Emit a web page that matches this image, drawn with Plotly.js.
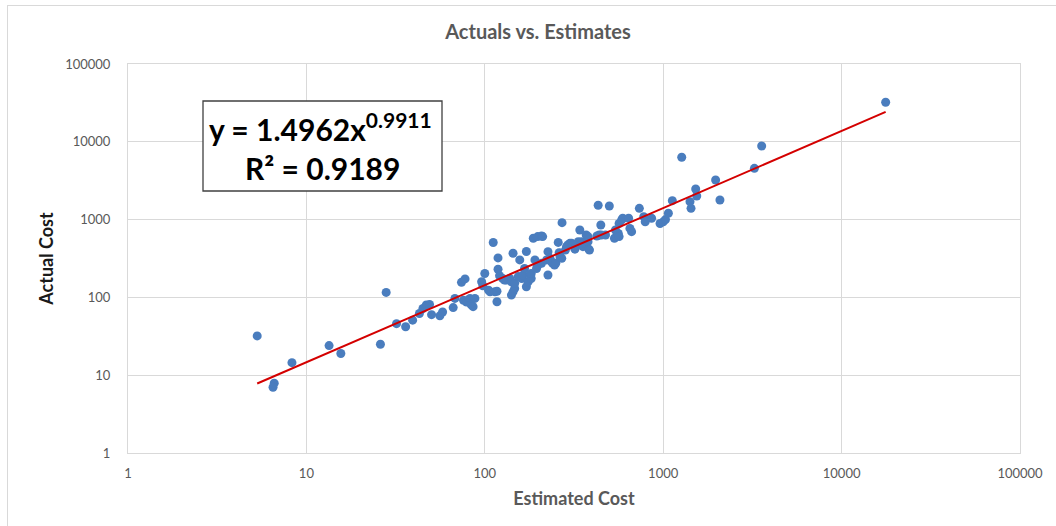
<!DOCTYPE html>
<html>
<head>
<meta charset="utf-8">
<script src="https://cdn.plot.ly/plotly-3.0.1.min.js"></script>
<style>
  html, body { margin:0; padding:0; background:#fff; overflow:hidden; }
  #chart { position:absolute; left:0; top:0; width:1056px; height:526px; }
  #frame { position:absolute; left:7px; top:5px; width:1100px; height:600px; border:1px solid #d9d9d9; pointer-events:none; }
</style>
</head>
<body>
<div id="chart"></div>
<div id="frame"></div>
<script>
// Estimated cost (x) and actual cost (y)
const estimated = [5.3, 6.6, 6.5, 8.3, 13.4, 15.6, 26, 28, 32, 36, 39.4, 43, 45, 47, 49, 50.3, 56, 58, 66.5, 68,
  74, 77.5, 76, 79, 81, 82.6, 84, 86, 88, 96, 97.5, 100, 105, 107, 111.5, 114, 117, 117, 118.6, 118.6,
  121, 126, 129, 132, 138, 141, 141, 144, 144, 147, 147, 154, 157, 161, 164, 167, 171, 171, 175, 179,
  182, 182, 187, 191, 195, 198, 198, 208, 208, 211, 222, 226, 226, 232, 236, 240, 246, 250, 258, 261,
  264, 264, 270, 271, 283, 287, 292, 300, 307, 313, 320, 326, 334, 341, 348, 355, 362, 370, 379, 383,
  386, 379, 425, 432, 438, 447, 450, 475, 499, 533, 540, 560, 566, 566, 585, 593, 640, 651, 665, 735,
  778, 793, 861, 960, 1000, 1030, 1069, 1125, 1270, 1413, 1432, 1521, 1542, 1967, 2080, 3245, 3564, 17660];
const actual = [32, 7.9, 7.0, 14.5, 24, 19, 25, 116, 46, 42, 51, 62, 72, 80, 81, 60, 58, 65, 74, 97,
  156, 173, 92, 87, 92, 97, 80, 76, 97, 159, 141, 203, 124, 118, 507, 118, 88, 120, 230, 322,
  190, 175, 167, 167, 175, 107, 159, 118, 369, 130, 152, 185, 303, 175, 194, 235, 137, 389, 159, 194,
  175, 203, 575, 303, 235, 605, 258, 274, 615, 605, 303, 387, 194, 318, 288, 274, 261, 274, 509, 375,
  369, 333, 318, 913, 406, 449, 471, 495, 495, 471, 417, 471, 520, 735, 520, 449, 495, 634, 520, 417,
  406, 605, 615, 1530, 634, 853, 634, 634, 1496, 575, 735, 665, 890, 605, 990, 1040, 1040, 770, 700, 1396,
  1090, 935, 1040, 890, 935, 1000, 1205, 1750, 6320, 1700, 1396, 2473, 2009, 3228, 1786, 4560, 8830, 32200];

// Power trendline as shown in the chart's equation label
const coefA = 1.4962;
const coefB = 0.9911;
const rSquared = 0.9189;

const tickVals = [1, 10, 100, 1000, 10000, 100000];
const tickText = ["1", "10", "100", "1000", "10000", "100000"];

const xMin = Math.min(...estimated), xMax = Math.max(...estimated);
const trendX = [xMin, xMax];
const trendY = trendX.map(v => coefA * Math.pow(v, coefB));

const font = "Lato, 'Open Sans', sans-serif";

const traces = [
  {
    x: estimated, y: actual, type: "scatter", mode: "markers",
    marker: { color: "#4a7dbe", size: 9 },
    hoverinfo: "x+y", showlegend: false
  },
  {
    x: trendX, y: trendY, type: "scatter", mode: "lines",
    line: { color: "#d40000", width: 2 },
    hoverinfo: "skip", showlegend: false
  }
];

const axisCommon = {
  type: "log",
  range: [0, 5],
  tickvals: tickVals,
  ticktext: tickText,
  showgrid: true,
  gridcolor: "#d9d9d9",
  gridwidth: 1,
  zeroline: false,
  showline: true,
  linecolor: "#d9d9d9",
  linewidth: 1,
  mirror: true,
  ticks: "",
  tickfont: { family: font, size: 13, color: "#595959" }
};

const layout = {
  width: 1056, height: 526,
  margin: { l: 128, r: 36, t: 64, b: 73 },
  paper_bgcolor: "rgba(0,0,0,0)",
  plot_bgcolor: "#ffffff",
  title: {
    text: "<b>Actuals vs. Estimates</b>",
    font: { family: font, size: 20, color: "#595959" },
    xref: "container", x: 538 / 1056, xanchor: "center",
    yref: "container", y: 1 - 32 / 526, yanchor: "middle"
  },
  xaxis: Object.assign({}, axisCommon, {
    title: { text: "<b>Estimated Cost</b>", font: { family: font, size: 18, color: "#595959" }, standoff: 12 },
    ticklabelstandoff: 8
  }),
  yaxis: Object.assign({}, axisCommon, {
    title: { text: "<b>Actual Cost</b>", font: { family: font, size: 18, color: "#1a1a1a" }, standoff: 6 },
    ticklabelstandoff: 14
  }),
  shapes: [
    {
      type: "rect", xref: "paper", yref: "paper",
      x0: (203 - 128) / 892, x1: (442 - 128) / 892,
      y0: (453 - 191) / 389, y1: (453 - 101) / 389,
      line: { color: "#404040", width: 1.3 }, fillcolor: "#ffffff", layer: "above"
    }
  ],
  annotations: [
    {
      xref: "paper", yref: "paper",
      x: (207 - 128) / 892, y: (453 - 127) / 389,
      xanchor: "left", yanchor: "middle", showarrow: false,
      text: "<b>y = " + coefA.toFixed(4) + "x<sup>" + coefB.toFixed(4) + "</sup></b>",
      font: { family: font, size: 30, color: "#000000" }
    },
    {
      xref: "paper", yref: "paper",
      x: (322 - 128) / 892, y: (453 - 168) / 389,
      xanchor: "center", yanchor: "middle", showarrow: false,
      text: "<b>R² = " + rSquared.toFixed(4) + "</b>",
      font: { family: font, size: 30, color: "#000000" }
    }
  ]
};

Plotly.newPlot("chart", traces, layout, { staticPlot: true, displayModeBar: false });
</script>
</body>
</html>
